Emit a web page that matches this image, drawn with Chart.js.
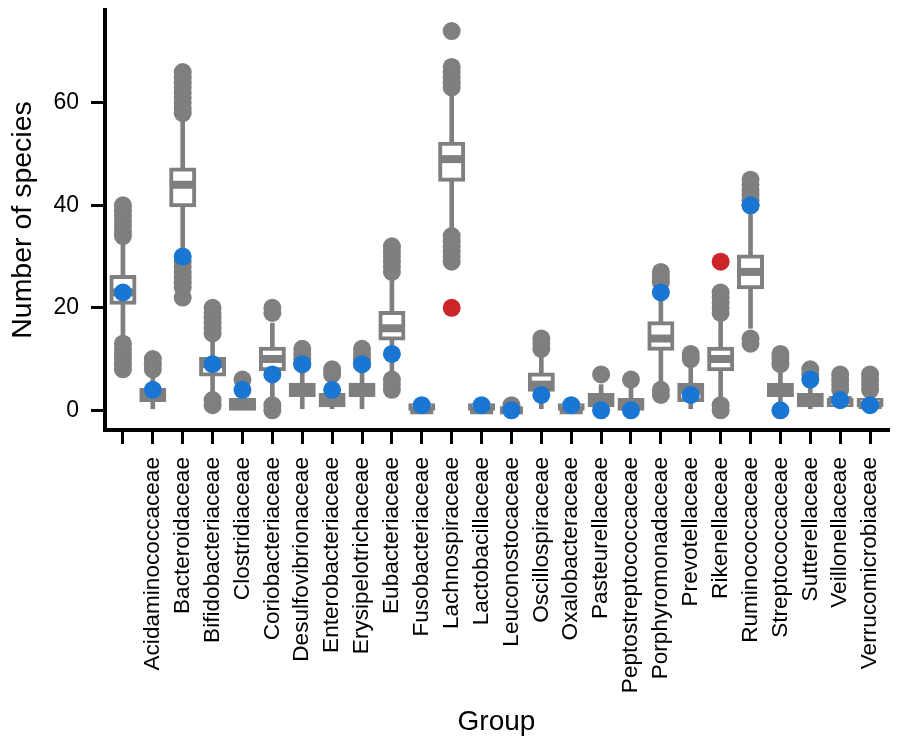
<!DOCTYPE html>
<html>
<head>
<meta charset="utf-8">
<script src="https://cdn.jsdelivr.net/npm/chart.js@4.4.1/dist/chart.umd.min.js"></script>
<style>
  html, body { margin: 0; padding: 0; background: #ffffff; }
  canvas { display: block; }
</style>
</head>
<body>
<canvas id="c" width="900" height="750"></canvas>
<script>
// ---- data ----
const categories = ['', 'Acidaminococcaceae', 'Bacteroidaceae', 'Bifidobacteriaceae', 'Clostridiaceae',
  'Coriobacteriaceae', 'Desulfovibrionaceae', 'Enterobacteriaceae', 'Erysipelotrichaceae', 'Eubacteriaceae',
  'Fusobacteriaceae', 'Lachnospiraceae', 'Lactobacillaceae', 'Leuconostocaceae', 'Oscillospiraceae',
  'Oxalobacteraceae', 'Pasteurellaceae', 'Peptostreptococcaceae', 'Porphyromonadaceae', 'Prevotellaceae',
  'Rikenellaceae', 'Ruminococcaceae', 'Streptococcaceae', 'Sutterellaceae', 'Veillonellaceae',
  'Verrucomicrobiaceae'];

const whiskerLow  = [14, 0, 30, 3, 0, 2, 0, 0, 0, 7, 0, 35, 0, 0, 0, 0, 0, 0, 5, 0, 2, 16, 0, 0, 0, 0];
const q1          = [21, 2, 40, 7, 0, 8, 3, 1, 3, 14, 0, 45, 0, 0, 4, 0, 1, 0, 12, 2, 8, 24, 3, 1, 1, 1];
const median      = [23, 3, 44, 9, 1, 10, 4, 2, 4, 16, 0, 49, 0, 0, 5, 0, 2, 1, 14, 4, 10, 27, 4, 2, 2, 1];
const q3          = [26, 4, 47, 10, 2, 12, 5, 3, 5, 19, 1, 52, 1, 0, 7, 1, 3, 2, 17, 5, 12, 30, 5, 3, 2, 2];
const whiskerHigh = [33, 7, 57, 14, 5, 17, 8, 6, 8, 26, 2, 62, 2, 0, 11, 2, 5, 5, 24, 9, 18, 39, 8, 6, 3, 3];

const outliers = [
  [8, 9, 10, 11, 12, 13, 34, 35, 36, 37, 38, 39, 40],
  [8, 9, 10],
  [22, 24, 25, 26, 27, 28, 29, 58, 59, 60, 61, 62, 63, 64, 65, 66],
  [1, 2, 15, 16, 17, 18, 19, 20],
  [6],
  [0, 1, 19, 20],
  [9, 10, 11, 12],
  [7, 8],
  [9, 10, 11, 12],
  [4, 5, 6, 27, 28, 29, 30, 31, 32],
  [],
  [29, 30, 31, 32, 33, 34, 63, 64, 65, 66, 67, 74],
  [],
  [1],
  [12, 13, 14],
  [],
  [7],
  [6],
  [3, 4, 25, 26, 27],
  [10, 11],
  [0, 1, 19, 20, 21, 22, 23],
  [13, 14, 40, 41, 42, 43, 44, 45],
  [9, 10, 11],
  [7, 8],
  [4, 5, 6, 7],
  [4, 5, 6, 7]
];

const bluePoints = [23, 4, 30, 9, 4, 7, 9, 4, 9, 11, 1, null, 1, 0, 3, 1, 0, 0, 23, 3, null, 40, 0, 6, 2, 1];
const redPoints  = [null, null, null, null, null, null, null, null, null, null, null, 20, null, null, null,
  null, null, null, null, null, 29, null, null, null, null, null];

const yTickValues = [0, 20, 40, 60];

// ---- styles ----
const GREY = '#7f7f7f';
const BLUE = '#1976d2';
const RED = '#cc2529';
const FONT = 'Liberation Sans, Arial, Helvetica, sans-serif';

const idx = categories.map((_, i) => i);
const pts = (arr) => idx.filter(i => arr[i] !== null).map(i => ({ x: i, y: arr[i] }));
const outlierPts = [];
idx.forEach(i => outliers[i].forEach(v => outlierPts.push({ x: i, y: v })));

new Chart(document.getElementById('c'), {
  type: 'scatter',
  data: {
    datasets: [
      {
        type: 'bar', label: 'whisker', order: 6, grouped: false,
        data: idx.map(i => ({ x: i, y: [whiskerLow[i], whiskerHigh[i]] })),
        backgroundColor: GREY, borderWidth: 0, barThickness: 4
      },
      {
        type: 'scatter', label: 'outliers', order: 5,
        data: outlierPts,
        pointRadius: 9, pointBackgroundColor: GREY, pointBorderWidth: 0, pointHoverRadius: 9
      },
      {
        type: 'bar', label: 'box', order: 4, grouped: false,
        data: idx.map(i => ({ x: i, y: [q1[i], q3[i]] })),
        backgroundColor: '#ffffff', borderColor: GREY, borderWidth: 4,
        borderSkipped: false, inflateAmount: 2, barThickness: 23
      },
      {
        type: 'scatter', label: 'median', order: 3,
        data: idx.map(i => ({ x: i, y: median[i] })),
        pointStyle: 'line', pointRadius: 11.5, pointBorderWidth: 8, pointBorderColor: GREY,
        pointHoverRadius: 11.5
      },
      {
        type: 'scatter', label: 'blue', order: 2,
        data: pts(bluePoints),
        pointRadius: 9, pointBackgroundColor: BLUE, pointBorderWidth: 0, pointHoverRadius: 9
      },
      {
        type: 'scatter', label: 'red', order: 1,
        data: pts(redPoints),
        pointRadius: 9, pointBackgroundColor: RED, pointBorderWidth: 0, pointHoverRadius: 9
      }
    ]
  },
  options: {
    responsive: false,
    devicePixelRatio: 1,
    animation: false,
    events: [],
    layout: { autoPadding: false, padding: { left: 0, right: 12, top: 10, bottom: 0 } },
    plugins: { legend: { display: false }, tooltip: { enabled: false } },
    scales: {
      x: {
        type: 'linear', position: 'bottom', min: -0.6, max: 25.6, offset: false,
        afterBuildTicks: (s) => { s.ticks = idx.map(i => ({ value: i })); },
        afterFit: (s) => { s.height = 320; s.paddingLeft = 0; s.paddingRight = 0; },
        grid: { display: true, drawOnChartArea: false, drawTicks: true, tickLength: 14, lineWidth: 3, color: '#000', offset: false },
        border: { display: true, color: '#000', width: 4 },
        ticks: {
          autoSkip: false, minRotation: 90, maxRotation: 90, padding: 13, color: '#000',
          font: { family: FONT, size: 22.6 },
          callback: (v) => (categories[v] !== undefined ? categories[v] : '')
        },
        title: { display: true, text: 'Group', color: '#000', font: { family: FONT, size: 28 }, padding: { top: 0, bottom: 11 } }
      },
      y: {
        type: 'linear', position: 'left', min: -3.85, max: 78.1,
        afterBuildTicks: (s) => { s.ticks = yTickValues.map(v => ({ value: v })); },
        afterFit: (s) => { s.width = 105; s.paddingTop = 0; s.paddingBottom = 0; },
        grid: { display: true, drawOnChartArea: false, drawTicks: true, tickLength: 14, lineWidth: 3, color: '#000' },
        border: { display: true, color: '#000', width: 4 },
        ticks: { padding: 12, color: '#000', font: { family: FONT, size: 23 } },
        title: { display: true, text: 'Number of species', color: '#000', font: { family: FONT, size: 28.5 }, padding: { top: 6, bottom: 0 } }
      }
    }
  }
});
</script>
</body>
</html>
